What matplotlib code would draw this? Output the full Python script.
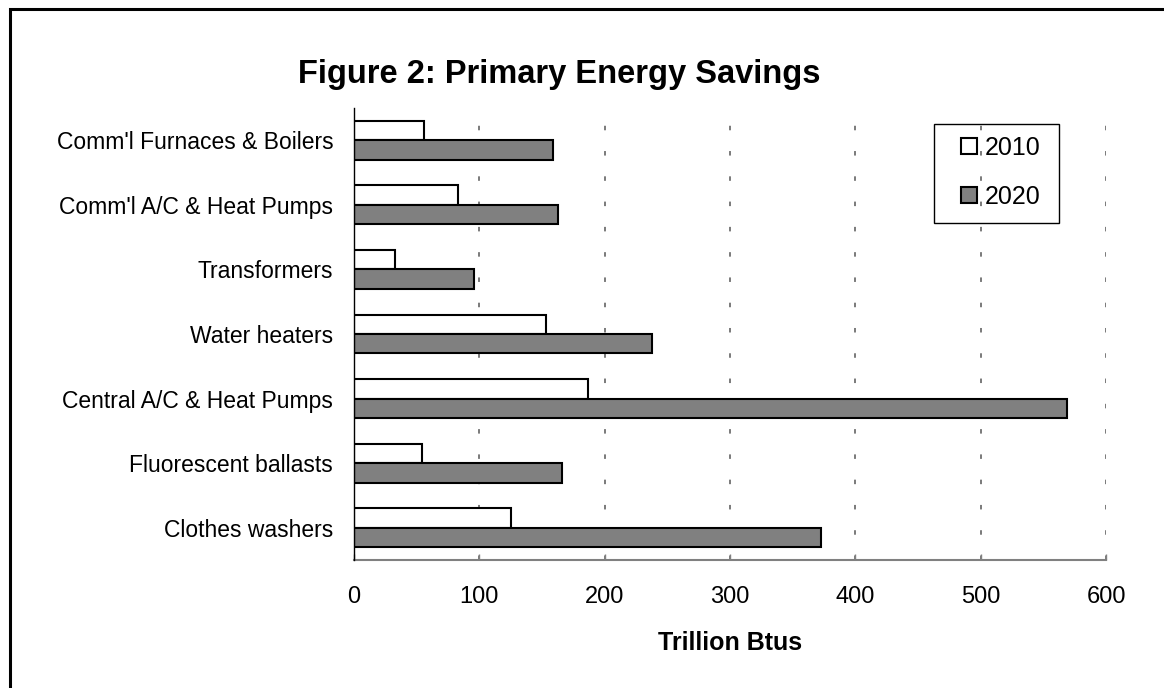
import matplotlib
matplotlib.use("Agg")
import matplotlib.pyplot as plt
from matplotlib.patches import Rectangle
import numpy as np

plt.rcParams["font.family"] = ["Liberation Sans", "DejaVu Sans"]

# data, top to bottom as in the chart
categories = ["Comm'l Furnaces & Boilers", "Comm'l A/C & Heat Pumps", "Transformers",
              "Water heaters", "Central A/C & Heat Pumps", "Fluorescent ballasts",
              "Clothes washers"]
savings_2010 = [56, 83, 33, 153, 187, 54, 125]
savings_2020 = [159, 163, 96, 238, 569, 166, 373]
series_labels = ["2010", "2020"]
x_ticks = [0, 100, 200, 300, 400, 500, 600]

W, H = 1164, 688
fig = plt.figure(figsize=(W / 100, H / 100), dpi=100)
ax = fig.add_axes([354 / W, 1 - 560 / H, (1106 - 354) / W, (560 - 108) / H])

y = np.arange(len(categories))
h = 0.30
b1 = ax.barh(y - h / 2, savings_2010, height=h, color="white", edgecolor="black",
             linewidth=1.5, label=series_labels[0], zorder=3)
b2 = ax.barh(y + h / 2, savings_2020, height=h, color="#808080", edgecolor="black",
             linewidth=1.5, label=series_labels[1], zorder=3)

ax.set_xlim(0, 600)
ax.set_ylim(len(categories) - 0.5, -0.5)
ax.set_xticks(x_ticks)
ax.set_xticklabels([str(t) for t in x_ticks], fontsize=17)
ax.set_yticks(y)
ax.set_yticklabels(categories, fontsize=16.5)
ax.tick_params(axis="y", length=0, pad=15)
ax.tick_params(axis="x", direction="in", length=4, width=1, color="#808080", pad=19)

ax.grid(axis="x", color="#707070", linestyle=(0, (2.5, 11.5)), linewidth=1.3, zorder=0)
for s in ["top", "right"]:
    ax.spines[s].set_visible(False)
ax.spines["left"].set_color("black")
ax.spines["left"].set_linewidth(1)
ax.spines["left"].set_zorder(4)
ax.spines["bottom"].set_color("#808080")
ax.spines["bottom"].set_linewidth(1.5)

fig.text(559 / W, 1 - 83 / H, "Figure 2: Primary Energy Savings", ha="center",
         va="baseline", fontsize=23.5, fontweight="bold")
fig.text(730 / W, 1 - 650 / H, "Trillion Btus", ha="center", va="baseline",
         fontsize=18, fontweight="bold")

# legend with a plain box
fig.add_artist(Rectangle((934 / W, 1 - 223 / H), 125 / W, 99 / H, transform=fig.transFigure,
                         fill=False, edgecolor="black", linewidth=1))
fig.legend(handles=[b1, b2], loc="upper left", bbox_to_anchor=(961 / W, 1 - 136 / H),
           frameon=False, fontsize=18, handlelength=0.64, handleheight=0.64,
           handletextpad=0.3, labelspacing=1.0, borderpad=0, borderaxespad=0)

# outer frame (top and left edges visible)
fig.add_artist(Rectangle((9.5 / W, -0.1), 2, 1.1 - 9.5 / H, transform=fig.transFigure,
                         fill=False, edgecolor="black", linewidth=2.2))

fig.savefig("out.png", dpi=100)
